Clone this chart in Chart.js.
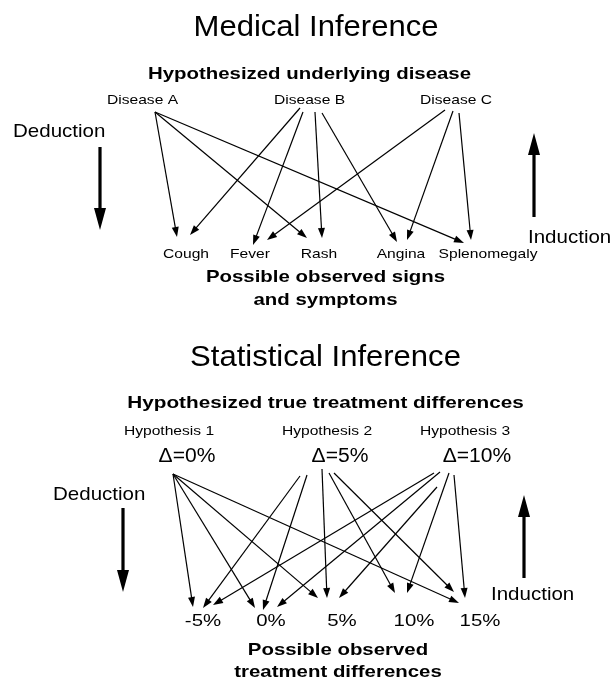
<!DOCTYPE html>
<html>
<head>
<meta charset="utf-8">
<script src="https://cdn.jsdelivr.net/npm/chart.js@4.4.0/dist/chart.umd.min.js"></script>
<style>
  html, body { margin: 0; padding: 0; background: #fff; }
  #diagram { display: block; }
</style>
</head>
<body>
<canvas id="diagram" width="614" height="681"></canvas>
<script>
// ---- data ----
const medTitle = 'Medical Inference';
const medTop = 'Hypothesized underlying disease';
const diseases = ['Disease A', 'Disease B', 'Disease C'];
const symptoms = ['Cough', 'Fever', 'Rash', 'Angina', 'Splenomegaly'];
const medBottom = ['Possible observed signs', 'and symptoms'];
// [disease, symptom]
const medLinks = [[0, 0], [0, 2], [0, 4], [1, 0], [1, 1], [1, 2], [1, 3], [2, 1], [2, 3], [2, 4]];

const statTitle = 'Statistical Inference';
const statTop = 'Hypothesized true treatment differences';
const hypotheses = ['Hypothesis 1', 'Hypothesis 2', 'Hypothesis 3'];
const trueDiffs = ['Δ=0%', 'Δ=5%', 'Δ=10%'];
const observedDiffs = ['-5%', '0%', '5%', '10%', '15%'];
const statBottom = ['Possible observed', 'treatment differences'];
// [hypothesis, observed]
const statLinks = [[0, 0], [0, 1], [0, 2], [0, 4],
                   [1, 0], [1, 1], [1, 2], [1, 3], [1, 4],
                   [2, 0], [2, 1], [2, 2], [2, 3], [2, 4]];

const sideWords = ['Deduction', 'Induction'];

// ---- layout (pixels of the 614x681 picture) ----
const diseaseX = [142.5, 309.5, 456];
const symptomX = [186, 250, 319, 401, 488];
const medStart = [[155, 112], [155, 112], [155, 112], [300, 108], [303, 112], [315, 112], [322, 113], [445, 110], [453, 111], [459, 113]];
const medEnd = [[177, 237], [307, 238], [464, 243], [190, 235], [253, 245], [322, 238], [397, 242], [267, 240], [407, 240], [471, 240]];

const hypX = [169, 327, 465];
const deltaX = [187, 340, 477];
const observedX = [203, 271, 342, 414, 480];
const statStart = [[173, 474], [173, 474], [173, 474], [173, 474],
                   [300, 476], [307, 475], [322, 469], [329, 473], [334, 473],
                   [434, 473], [440, 472], [437, 487], [449, 473], [454, 475]];
const statEnd = [[193, 607], [255, 608], [318, 598], [459, 603],
                 [203, 608], [263, 610], [327, 598], [395, 593], [454, 592],
                 [213, 605], [277, 607], [339, 598], [407, 593], [465, 598]];

const FONT = '"Liberation Sans", Arial, Helvetica, sans-serif';

// ---- build texts ----
const texts = [];
function addText(str, x, y, font, sx, align) {
  texts.push({ str, x, y, font, sx, align: align || 'center' });
}
addText(medTitle, 316, 36, '29px ' + FONT, 1.07);
addText(medTop, 309.5, 79, 'bold 17px ' + FONT, 1.2);
diseases.forEach((d, i) => addText(d, diseaseX[i], 104, '13px ' + FONT, 1.2));
symptoms.forEach((s, i) => addText(s, symptomX[i], 258, '13px ' + FONT, 1.2));
addText(medBottom[0], 325.5, 282, 'bold 17px ' + FONT, 1.2);
addText(medBottom[1], 325.5, 305, 'bold 17px ' + FONT, 1.2);
addText(sideWords[0], 13, 137, '19px ' + FONT, 1.08, 'left');
addText(sideWords[1], 528, 243, '19px ' + FONT, 1.08, 'left');

addText(statTitle, 325.5, 366, '29px ' + FONT, 1.07);
addText(statTop, 325.5, 408, 'bold 17px ' + FONT, 1.22);
hypotheses.forEach((h, i) => addText(h, hypX[i], 435, '13px ' + FONT, 1.2));
trueDiffs.forEach((d, i) => addText(d, deltaX[i], 462, '19.5px ' + FONT, 1.08));
observedDiffs.forEach((d, i) => addText(d, observedX[i], 626, '17px ' + FONT, 1.2));
addText(statBottom[0], 338, 655, 'bold 17px ' + FONT, 1.2);
addText(statBottom[1], 338, 677, 'bold 17px ' + FONT, 1.2);
addText(sideWords[0], 53, 500, '19px ' + FONT, 1.08, 'left');
addText(sideWords[1], 491, 600, '19px ' + FONT, 1.08, 'left');

// ---- build arrows ----
const arrows = [];
medLinks.forEach((l, i) => arrows.push({ from: medStart[i], to: medEnd[i], w: 1.2, hl: 10, hw: 3.5 }));
statLinks.forEach((l, i) => arrows.push({ from: statStart[i], to: statEnd[i], w: 1.2, hl: 10, hw: 3.5 }));
arrows.push({ from: [100, 147], to: [100, 230], w: 3.2, hl: 22, hw: 6 });
arrows.push({ from: [534, 217], to: [534, 133], w: 3.2, hl: 22, hw: 6 });
arrows.push({ from: [123, 508], to: [123, 592], w: 3.2, hl: 22, hw: 6 });
arrows.push({ from: [524, 578], to: [524, 495], w: 3.2, hl: 22, hw: 6 });

const datasets = arrows.map(a => {
  const dx = a.to[0] - a.from[0], dy = a.to[1] - a.from[1];
  const len = Math.hypot(dx, dy);
  const cut = a.hl * 0.6;
  return {
    data: [{ x: a.from[0], y: a.from[1] },
           { x: a.to[0] - dx / len * cut, y: a.to[1] - dy / len * cut }],
    showLine: true,
    borderColor: '#000',
    borderWidth: a.w,
    pointRadius: 0,
    pointHoverRadius: 0,
    tip: { x: a.to[0], y: a.to[1] },
    hl: a.hl,
    hw: a.hw
  };
});

const arrowHeads = {
  id: 'arrowHeads',
  afterDatasetsDraw(chart) {
    const ctx = chart.ctx;
    const xs = chart.scales.x, ys = chart.scales.y;
    ctx.save();
    ctx.fillStyle = '#000';
    chart.data.datasets.forEach((ds, i) => {
      const p0 = chart.getDatasetMeta(i).data[0];
      const tx = xs.getPixelForValue(ds.tip.x), ty = ys.getPixelForValue(ds.tip.y);
      const ang = Math.atan2(ty - p0.y, tx - p0.x);
      const c = Math.cos(ang), s = Math.sin(ang);
      const bx = tx - c * ds.hl, by = ty - s * ds.hl;
      ctx.beginPath();
      ctx.moveTo(tx, ty);
      ctx.lineTo(bx - s * ds.hw, by + c * ds.hw);
      ctx.lineTo(bx + s * ds.hw, by - c * ds.hw);
      ctx.closePath();
      ctx.fill();
    });
    ctx.restore();
  }
};

const textLayer = {
  id: 'textLayer',
  afterDraw(chart) {
    const ctx = chart.ctx;
    const xs = chart.scales.x, ys = chart.scales.y;
    texts.forEach(t => {
      ctx.save();
      ctx.font = t.font;
      ctx.fillStyle = '#000';
      ctx.textAlign = t.align;
      ctx.textBaseline = 'alphabetic';
      ctx.translate(xs.getPixelForValue(t.x), ys.getPixelForValue(t.y));
      ctx.scale(t.sx, 1);
      ctx.fillText(t.str, 0, 0);
      ctx.restore();
    });
  }
};

new Chart(document.getElementById('diagram'), {
  type: 'scatter',
  data: { datasets: datasets },
  options: {
    responsive: false,
    animation: false,
    layout: { padding: 0 },
    plugins: { legend: { display: false }, tooltip: { enabled: false } },
    scales: {
      x: { type: 'linear', min: 0, max: 614, display: false },
      y: { type: 'linear', min: 0, max: 681, reverse: true, display: false }
    }
  },
  plugins: [arrowHeads, textLayer]
});
</script>
</body>
</html>
